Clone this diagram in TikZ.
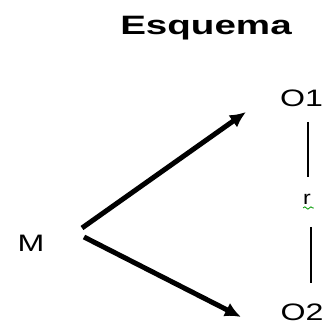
\documentclass[tikz,border=0pt]{standalone}
\usepackage{fontspec}
\setmainfont{Liberation Sans}
\usepackage{xcolor}
\usepackage{tikz}
\usetikzlibrary{arrows.meta,decorations.pathmorphing}

\begin{document}
\begin{tikzpicture}[x=0.5pt,y=-0.5pt,>={Latex[length=8pt,width=7.5pt]},
    lbl/.style={anchor=base,inner sep=0pt,xscale=1.35,font=\fontsize{11.9}{14}\selectfont},
    flow/.style={->,line width=2.5pt},
    link/.style={line width=0.9pt}]
  \useasboundingbox (0,0) rectangle (328,326);
  \node[anchor=base,inner sep=0pt,xscale=1.45,font=\fontsize{13.3}{16}\bfseries] (title) at (206,35) {Esquema};
  \node[lbl] (M) at (31,252) {M};
  \node[lbl] (O1) at (301.5,107) {O1};
  \node[lbl] (O2) at (302,321) {O2};
  \node[anchor=base,inner sep=0pt,xscale=1.2,font=\fontsize{9.6}{11}\selectfont] (r) at (307,205) {r};
  % arrows from M
  \coordinate (m-up) at (82,228);
  \coordinate (m-dn) at (84,237);
  \coordinate (o1-in) at (246,112);
  \coordinate (o2-in) at (241,317);
  \draw[flow] (m-up) -- (o1-in);
  \draw[flow] (m-dn) -- (o2-in);
  % correlation r
  \coordinate (r-up1) at (308,122);
  \coordinate (r-up2) at (308,177);
  \coordinate (r-dn1) at (311,227);
  \coordinate (r-dn2) at (311,283);
  \draw[link] (r-up1) -- (r-up2);
  \draw[link] (r-dn1) -- (r-dn2);
  \draw[green!60!black,line width=0.4pt,decorate,decoration={snake,amplitude=0.6pt,segment length=3pt}] (303,208) -- (314,208);
\end{tikzpicture}
\end{document}
